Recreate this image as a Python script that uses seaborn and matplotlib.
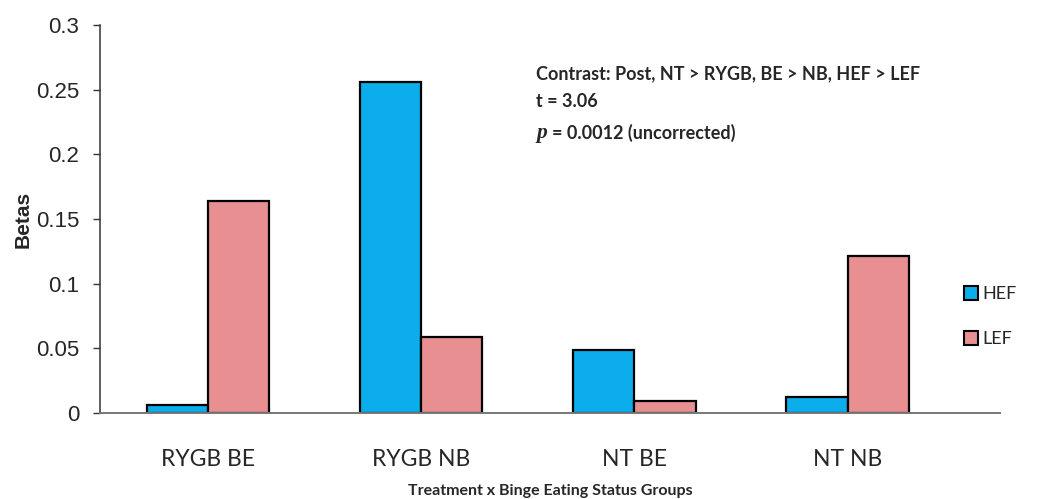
import matplotlib
matplotlib.use("Agg")
import matplotlib.pyplot as plt
from matplotlib.lines import Line2D
import seaborn as sns
import pandas as pd

groups = ["RYGB BE", "RYGB NB", "NT BE", "NT NB"]
hef_betas = [0.006, 0.256, 0.049, 0.012]
lef_betas = [0.164, 0.059, 0.009, 0.121]
conditions = ["HEF", "LEF"]
colors = {"HEF": "#0BAEEA", "LEF": "#E88F92"}
y_ticks = [0, 0.05, 0.1, 0.15, 0.2, 0.25, 0.3]
y_tick_labels = ["0", "0.05", "0.1", "0.15", "0.2", "0.25", "0.3"]

df = pd.DataFrame({
    "group": groups * 2,
    "cond": ["HEF"] * len(groups) + ["LEF"] * len(groups),
    "beta": hef_betas + lef_betas,
})

label_font = "Lato"

sns.set_theme(style="white")
plt.rcParams["font.family"] = ["Liberation Sans", "DejaVu Sans"]

fig = plt.figure(figsize=(10.56, 4.99), dpi=100)
ax = fig.add_axes([0.0947, 0.1723, 0.8523, 0.7777])

sns.barplot(data=df, x="group", y="beta", hue="cond", order=groups,
            hue_order=conditions, palette=colors, width=0.574,
            edgecolor="black", linewidth=1.6, saturation=1, ax=ax,
            legend=False)

ax.set_xlim(-0.507, 3.715)
ax.set_ylim(0, 0.3)
ax.set_yticks(y_ticks)
ax.set_yticklabels(y_tick_labels, fontsize=16)
ax.tick_params(axis="y", left=True, length=5, width=1, color="#333333", pad=10)
ax.tick_params(axis="x", bottom=False, pad=20)
for lbl in ax.get_xticklabels():
    lbl.set_family(label_font)
    lbl.set_fontsize(16.5)

for side in ["top", "right"]:
    ax.spines[side].set_visible(False)
ax.spines["left"].set_color("#333333")
ax.spines["left"].set_linewidth(1.1)
ax.spines["bottom"].set_color("#777777")
ax.spines["bottom"].set_linewidth(1.4)

ax.set_ylabel("Betas", fontsize=15, fontweight="bold", labelpad=2)
ax.set_xlabel("Treatment x Binge Eating Status Groups", fontsize=11.5,
              fontweight="bold", family=label_font, labelpad=10)

# contrast annotation
note_size = 13
fig.text(0.508, 0.853, "Contrast: Post, NT > RYGB, BE > NB, HEF > LEF",
         fontsize=note_size, fontweight="bold", family=label_font, va="center")
fig.text(0.508, 0.797, "t = 3.06", fontsize=note_size, fontweight="bold",
         family=label_font, va="center")
fig.text(0.508, 0.733, "p", fontsize=15.5, fontweight="bold", style="italic",
         family="Liberation Serif", va="center")
fig.text(0.523, 0.733, "= 0.0012 (uncorrected)", fontsize=note_size,
         fontweight="bold", family=label_font, va="center")

handles = [Line2D([0], [0], marker="s", linestyle="none", markersize=10,
                  markerfacecolor=colors[c], markeredgecolor="black",
                  markeredgewidth=1.5) for c in conditions]
fig.legend(handles, conditions, loc="center left",
           bbox_to_anchor=(0.896, 0.365), frameon=False,
           prop={"family": label_font, "size": 13}, labelspacing=1.6,
           handletextpad=0.1, handlelength=1.0)

fig.savefig("out.png", dpi=100)
